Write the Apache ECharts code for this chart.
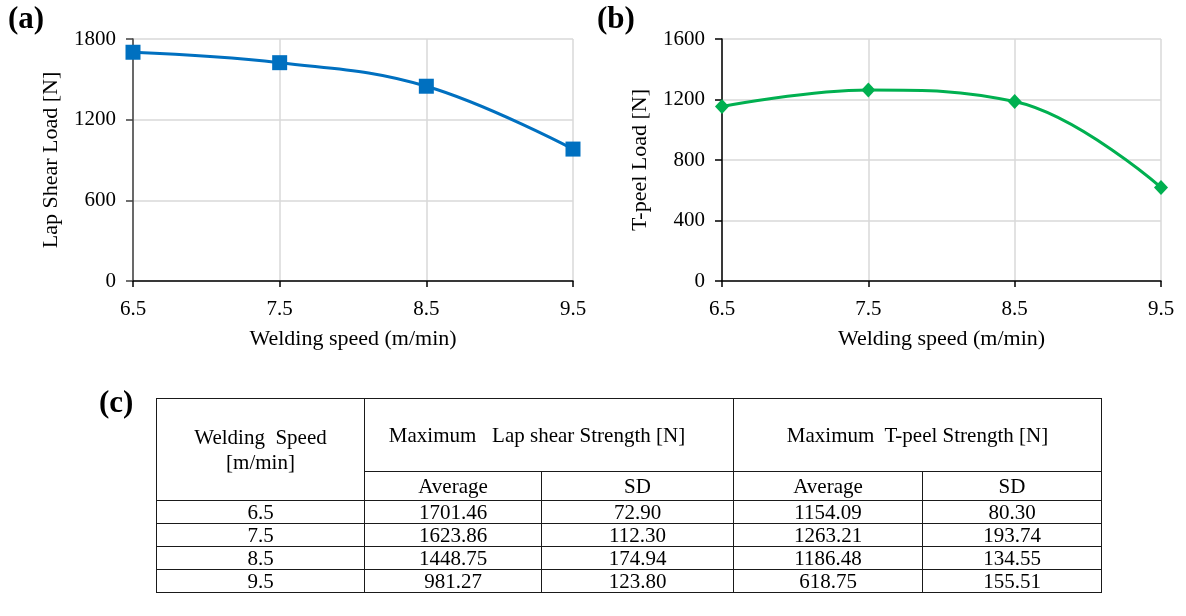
<!DOCTYPE html>
<html>
<head>
<meta charset="utf-8">
<script src="https://cdn.jsdelivr.net/npm/echarts@6/dist/echarts.min.js"></script>
<style>
  html, body { margin: 0; padding: 0; background: #fff; }
  #chart { position: absolute; left: 0; top: 0; width: 1186px; height: 616px; }
  #tbl {
    position: absolute; left: 156px; top: 398px;
    border-collapse: collapse; table-layout: fixed;
    font-family: "Liberation Serif", serif; font-size: 21px; color: #000;
  }
  #tbl td { border: 1.5px solid #1a1a1a; text-align: center; padding: 0; line-height: 21px; white-space: pre; }
</style>
</head>
<body>
<div id="chart"></div>
<table id="tbl"></table>
<script>
// data
const speeds = ['6.5', '7.5', '8.5', '9.5'];
const lapAvg = [1701.46, 1623.86, 1448.75, 981.27];
const lapSD = [72.90, 112.30, 174.94, 123.80];
const peelAvg = [1154.09, 1263.21, 1186.48, 618.75];
const peelSD = [80.30, 193.74, 134.55, 155.51];

const FONT = 'Liberation Serif';

function xAx(gridIndex) {
  return {
    type: 'category', gridIndex: gridIndex, data: speeds, boundaryGap: false,
    name: 'Welding speed (m/min)', nameLocation: 'middle', nameGap: 47,
    nameTextStyle: { fontFamily: FONT, fontSize: 22, color: '#000' },
    axisLine: { lineStyle: { color: '#000', width: 1.5 } },
    axisTick: { show: true, length: 6, lineStyle: { color: '#000', width: 1.5 }, alignWithLabel: true },
    axisLabel: { fontFamily: FONT, fontSize: 21, color: '#000', margin: 18 },
    splitLine: { show: true, lineStyle: { color: '#d9d9d9', width: 1.5 } }
  };
}

function yAx(gridIndex, name, max, interval, lineColor) {
  return {
    type: 'value', gridIndex: gridIndex, min: 0, max: max, interval: interval,
    name: name, nameLocation: 'middle', nameGap: 71,
    nameTextStyle: { fontFamily: FONT, fontSize: 22, color: '#000' },
    axisLine: { show: true, lineStyle: { color: lineColor, width: 1.5 } },
    axisTick: { show: true, length: 7, lineStyle: { color: lineColor, width: 1.5 } },
    axisLabel: { fontFamily: FONT, fontSize: 21, color: '#000', margin: 17, formatter: v => String(v) },
    splitLine: { show: true, lineStyle: { color: '#d9d9d9', width: 1.5 } }
  };
}

const chart = echarts.init(document.getElementById('chart'));
chart.setOption({
  animation: false,
  textStyle: { fontFamily: FONT },
  grid: [
    { left: 133, top: 39, width: 440, height: 242 },
    { left: 722, top: 39, width: 439, height: 242 }
  ],
  xAxis: [xAx(0), xAx(1)],
  yAxis: [
    yAx(0, 'Lap Shear Load [N]', 1800, 600, '#404040'),
    yAx(1, 'T-peel Load [N]', 1600, 400, '#000')
  ],
  series: [
    {
      type: 'line', xAxisIndex: 0, yAxisIndex: 0, data: lapAvg, smooth: 0.4,
      symbol: 'rect', symbolSize: 15,
      lineStyle: { color: '#0070c0', width: 3 },
      itemStyle: { color: '#0070c0' }
    },
    {
      type: 'line', xAxisIndex: 1, yAxisIndex: 1, data: peelAvg, smooth: 0.4,
      symbol: 'diamond', symbolSize: [14, 15],
      lineStyle: { color: '#00b050', width: 3 },
      itemStyle: { color: '#00b050' }
    }
  ],
  graphic: [
    { type: 'text', left: 8, top: 4, style: { text: '(a)', fontFamily: FONT, fontSize: 31, fontWeight: 'bold', fill: '#000' } },
    { type: 'text', left: 597, top: 4, style: { text: '(b)', fontFamily: FONT, fontSize: 31, fontWeight: 'bold', fill: '#000' } },
    { type: 'text', left: 99, top: 388, style: { text: '(c)', fontFamily: FONT, fontSize: 31, fontWeight: 'bold', fill: '#000' } }
  ]
});

// table (c)
const colW = [208, 177, 192, 189, 179];
const tbl = document.getElementById('tbl');
let html = '<colgroup>' + colW.map(w => '<col style="width:' + w + 'px">').join('') + '</colgroup>';
html += '<tr style="height:73px"><td rowspan="2" style="line-height:25px">Welding  Speed\n[m/min]</td>' +
  '<td colspan="2" style="padding-right:24px">Maximum   Lap shear Strength [N]</td>' +
  '<td colspan="2">Maximum  T-peel Strength [N]</td></tr>';
html += '<tr style="height:29px"><td>Average</td><td>SD</td><td>Average</td><td>SD</td></tr>';
speeds.forEach((s, i) => {
  html += '<tr style="height:23px"><td>' + s + '</td><td>' + lapAvg[i].toFixed(2) + '</td><td>' +
    lapSD[i].toFixed(2) + '</td><td>' + peelAvg[i].toFixed(2) + '</td><td>' + peelSD[i].toFixed(2) + '</td></tr>';
});
tbl.innerHTML = html;
</script>
</body>
</html>
